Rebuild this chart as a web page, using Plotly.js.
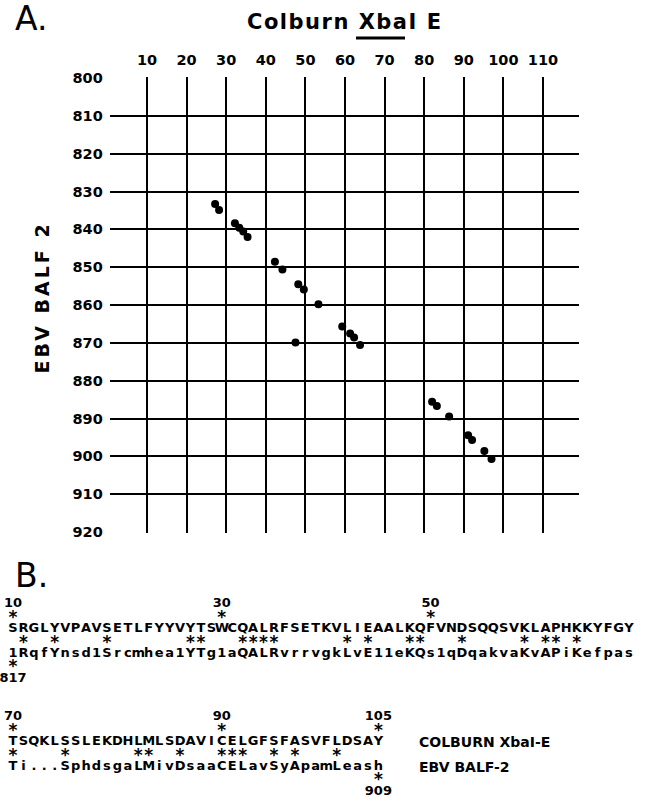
<!DOCTYPE html>
<html><head><meta charset="utf-8">
<script src="https://cdn.plot.ly/plotly-3.0.1.min.js"></script>
<style>html,body{margin:0;padding:0;background:#fff;}</style>
</head><body>
<div id="chart" style="width:645px;height:801px;"></div>
<script>
// ---------- Panel A data ----------
const colburnPos = [27.2, 28.2, 32.2, 33.3, 34.3, 35.4, 42.3, 44.2, 48.2, 49.6, 53.3, 47.5, 59.3, 61.3, 62.3, 63.8, 82.0, 83.2, 86.3, 91.1, 92.1, 95.2, 97.0];
const balf2Pos   = [833.3, 834.9, 838.4, 839.6, 840.6, 842.0, 848.6, 850.6, 854.5, 855.9, 859.8, 869.9, 865.7, 867.5, 868.6, 870.6, 885.6, 886.7, 889.5, 894.4, 895.7, 898.6, 900.7];
const xTicks = [10, 20, 30, 40, 50, 60, 70, 80, 90, 100, 110];
const yTicks = [800, 810, 820, 830, 840, 850, 860, 870, 880, 890, 900, 910, 920];

// ---------- Panel B data ----------
const colburnSeq1 = "SRGLYVPAVSETLFYYVYTSWCQALRFSETKVLIEAALKQFVNDSQQSVKLAPHKKYFGY";
const balf2Seq1   = "1RqfYnsd1Srcmhea1YTg1aQALRvrrvgkLvE11eKQs1qDqakvaKvAPiKefpas";
const identity1   = [1, 4, 9, 17, 18, 22, 23, 24, 25, 32, 34, 38, 39, 43, 49, 51, 52, 54];
const colburnMarkIdx1 = [0, 20, 40];
const colburnMarkLbl1 = ["10", "30", "50"];
const balf2MarkIdx1 = [0];
const balf2MarkLbl1 = ["817"];

const colburnSeq2 = "TSQKLSSLEKDHLMLSDAVICELGFSFASVFLDSAY";
const balf2Seq2   = "Ti...SphdsgaLMivDsaaCELavSyApamLeash";
const identity2   = [0, 5, 12, 13, 16, 20, 21, 22, 25, 27, 31];
const colburnMarkIdx2 = [0, 20, 35];
const colburnMarkLbl2 = ["70", "90", "105"];
const balf2MarkIdx2 = [35];
const balf2MarkLbl2 = ["909"];

// ---------- layout constants ----------
const W = 645, H = 801;
const FONT = "DejaVu Sans";
const xPx0 = 109.8, xPx1 = 578.6;      // plot area in px
const yPx0 = 77.24, yPx1 = 532.76;
const blockBase = [604, 717];
const rowOff = [0, 16, 25, 41, 50, 65, 75];
const starSize = 17, starShift = -1;
const charPx = 10.44, char0Px = 13;

const blocks = [
  {top: colburnSeq1, bot: balf2Seq1, id: identity1, tIdx: colburnMarkIdx1, tLbl: colburnMarkLbl1, bIdx: balf2MarkIdx1, bLbl: balf2MarkLbl1},
  {top: colburnSeq2, bot: balf2Seq2, id: identity2, tIdx: colburnMarkIdx2, tLbl: colburnMarkLbl2, bIdx: balf2MarkIdx2, bLbl: balf2MarkLbl2}
];

const seqX = [], seqY = [], seqT = [];
const numX = [], numY = [], numT = [];
const starX = [], starY = [];
blocks.forEach((b, k) => {
  const base = blockBase[k];
  const r = rowOff.map(o => base + o);
  b.tIdx.forEach((i, j) => { numX.push(i); numY.push(r[0]); numT.push(b.tLbl[j]);
                             starX.push(i); starY.push(r[1] + starShift); });
  b.top.split("").forEach((c, i) => { seqX.push(i); seqY.push(r[2]); seqT.push(c); });
  b.id.forEach(i => { starX.push(i); starY.push(r[3] + starShift); });
  b.bot.split("").forEach((c, i) => { seqX.push(i); seqY.push(r[4]); seqT.push(c); });
  b.bIdx.forEach((i, j) => { starX.push(i); starY.push(r[5] + starShift);
                             numX.push(i); numY.push(r[6]); numT.push(b.bLbl[j]); });
});

const r0 = -char0Px / charPx, r1 = r0 + W / charPx;

const traces = [
  {x: colburnPos, y: balf2Pos, type: "scatter", mode: "markers",
   marker: {color: "#000", size: 8}, xaxis: "x", yaxis: "y", hoverinfo: "skip"},
  {x: seqX, y: seqY, text: seqT, type: "scatter", mode: "text", xaxis: "x2", yaxis: "y2",
   textposition: "middle center", cliponaxis: false, hoverinfo: "skip",
   textfont: {family: FONT, size: 13, color: "#000", weight: "bold"}},
  {x: numX, y: numY, text: numT, type: "scatter", mode: "text", xaxis: "x2", yaxis: "y2",
   textposition: "middle center", cliponaxis: false, hoverinfo: "skip",
   textfont: {family: FONT, size: 13, color: "#000", weight: "bold"}},
  {x: starX, y: starY, text: starX.map(() => "*"), type: "scatter", mode: "text", xaxis: "x2", yaxis: "y2",
   textposition: "middle center", cliponaxis: false, hoverinfo: "skip",
   textfont: {family: FONT, size: starSize, color: "#000", weight: "bold"}}
];

const layout = {
  width: W, height: H,
  margin: {l: 0, r: 0, t: 0, b: 0, pad: 0},
  paper_bgcolor: "#fff", plot_bgcolor: "rgba(0,0,0,0)",
  showlegend: false,
  xaxis: {domain: [xPx0 / W, xPx1 / W], range: [0.6, 119], side: "top",
          tickmode: "array", tickvals: xTicks, ticktext: xTicks.map(String),
          showgrid: true, gridcolor: "#000", gridwidth: 2, zeroline: false, showline: false,
          ticks: "", ticklabelstandoff: 8, fixedrange: true,
          tickfont: {family: FONT, size: 14.5, color: "#000", weight: "bold"}},
  yaxis: {domain: [1 - yPx1 / H, 1 - yPx0 / H], range: [920.2, 799.8], autorange: false,
          tickmode: "array", tickvals: yTicks, ticktext: yTicks.map(String),
          showgrid: true, gridcolor: "#000", gridwidth: 2, zeroline: false, showline: false,
          ticks: "", ticklabelstandoff: 6, fixedrange: true,
          tickfont: {family: FONT, size: 14.5, color: "#000", weight: "bold"}},
  xaxis2: {domain: [0, 1], range: [r0, r1], visible: false, anchor: "y2", fixedrange: true},
  yaxis2: {domain: [0, 1], range: [H, 0], autorange: false, visible: false, anchor: "x2", fixedrange: true},
  annotations: [
    {text: "A.", xref: "paper", yref: "paper", x: 13 / W, y: 1 - 18 / H, xanchor: "left", yanchor: "middle",
     showarrow: false, font: {family: FONT, size: 33, color: "#000"}},
    {text: "<span style='letter-spacing:1.5px'>Colburn XbaI E</span>", xref: "paper", yref: "paper", x: 345 / W, y: 1 - 22 / H, xanchor: "center", yanchor: "middle",
     showarrow: false, font: {family: FONT, size: 21, color: "#000", weight: "bold"}},
    {text: "<span style='letter-spacing:3px'>EBV BALF 2</span>", xref: "paper", yref: "paper", x: 41.5 / W, y: 1 - 298 / H,
     xanchor: "center", yanchor: "middle", textangle: -90,
     showarrow: false, font: {family: FONT, size: 19, color: "#000", weight: "bold"}},
    {text: "B.", xref: "paper", yref: "paper", x: 13 / W, y: 1 - 575 / H, xanchor: "left", yanchor: "middle",
     showarrow: false, font: {family: FONT, size: 33, color: "#000"}},
    {text: "COLBURN XbaI-E", xref: "paper", yref: "paper", x: 417 / W, y: 1 - (blockBase[1] + rowOff[2]) / H,
     xanchor: "left", yanchor: "middle", showarrow: false, font: {family: FONT, size: 14, color: "#000", weight: "bold"}},
    {text: "EBV BALF-2", xref: "paper", yref: "paper", x: 417 / W, y: 1 - (blockBase[1] + rowOff[4]) / H,
     xanchor: "left", yanchor: "middle", showarrow: false, font: {family: FONT, size: 14, color: "#000", weight: "bold"}}
  ],
  shapes: [
    {type: "line", xref: "paper", yref: "paper", x0: 356 / W, x1: 405 / W, y0: 1 - 38 / H, y1: 1 - 38 / H,
     line: {color: "#000", width: 3}}
  ]
};

Plotly.newPlot("chart", traces, layout, {displayModeBar: false, staticPlot: true});
</script>
</body></html>
